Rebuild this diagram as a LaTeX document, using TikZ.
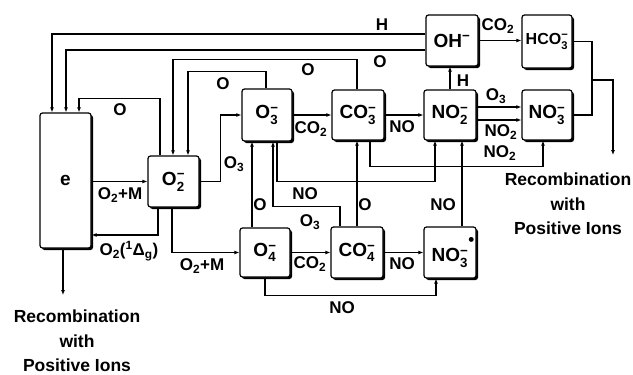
\documentclass[tikz,border=0pt]{standalone}
\usepackage{fontspec}
\usepackage{amsmath}
\setmainfont{Liberation Sans}
\usetikzlibrary{arrows.meta,shadows}
\newcommand\sbs[1]{\ensuremath{_{\text{#1}}}}
\newcommand\ionlab[3]{#1\ensuremath{^{\text{#3}}_{\text{#2}}}}
\begin{document}
\begin{tikzpicture}[x=1pt,y=-1pt,
  box/.style={draw, line width=1.2pt, fill=white, rounded corners=2.5pt, inner sep=0pt,
    font=\bfseries\fontsize{19}{22}\selectfont,
    drop shadow={shadow xshift=2pt, shadow yshift=-2pt, opacity=1, fill=black}},
  con/.style={line width=1.3pt},
  arr/.style={con, -{Latex[length=5pt,width=4pt]}},
  lab/.style={font=\bfseries\fontsize{17}{20}\selectfont, inner sep=0pt},
  rec/.style={align=center, inner sep=0pt, font=\bfseries\fontsize{17.5}{24.5}\selectfont}]
\useasboundingbox (0,0) rectangle (633,375);

% boxes
\node[box, minimum width=51pt, minimum height=135pt] (e) at (65.5,180.5) {e};
\node[box, minimum width=51pt, minimum height=51pt] (O2m) at (173.5,181.5) {\ionlab{O}{2}{−}};
\node[box, minimum width=50pt, minimum height=52pt] (O3m) at (267,115) {\ionlab{O}{3}{−}};
\node[box, minimum width=52pt, minimum height=50pt] (CO3m) at (358,115) {\ionlab{CO}{3}{−}};
\node[box, minimum width=52pt, minimum height=50pt] (NO2m) at (450,115) {\ionlab{NO}{2}{−}};
\node[box, minimum width=52pt, minimum height=51pt] (OHm) at (452,40.5) {OH\ensuremath{^{\text{−}}}};
\node[box, minimum width=50pt, minimum height=53pt, font=\bfseries\fontsize{16}{20}\selectfont] (HCO3m) at (547,41.5) {\ionlab{HCO}{3}{−}};
\node[box, minimum width=50pt, minimum height=50pt] (NO3m) at (547,115) {\ionlab{NO}{3}{−}};
\node[box, minimum width=50pt, minimum height=49pt] (O4m) at (265,252.5) {\ionlab{O}{4}{−}};
\node[box, minimum width=52pt, minimum height=51pt] (CO4m) at (357,252.5) {\ionlab{CO}{4}{−}};
\node[box, minimum width=52pt, minimum height=51pt] (NO3s) at (450,252.5) {\ionlab{NO}{3}{−}\rlap{\raisebox{1.6ex}{\fontsize{17}{17}\selectfont •}}};

% free ends
\coordinate (r1) at (63,295);
\coordinate (J) at (592,80);
\coordinate (r2) at (613,155);

% connectors
\draw[arr] ([yshift=6.5pt]OHm.west) -| ([xshift=-13.5pt]e.north);
\draw[arr] ([yshift=-9.5pt]OHm.west) -| ([xshift=0.5pt]e.north);
\draw[arr] ([xshift=-13.5pt]O2m.north) -- ++(0,-57) -| ([xshift=13.5pt]e.north);
\draw[arr] ([xshift=-1pt]O3m.north) -- ++(0,-17) -| ([xshift=14.5pt]O2m.north);
\draw[arr] ([xshift=-1pt]CO3m.north) -- ++(0,-30) -| ([xshift=-0.5pt]O2m.north);
\draw[arr] (e.east |- O2m.west) -- (O2m.west);
\draw[arr] ([xshift=-15.5pt]O2m.south) |- ([yshift=-54.5pt]e.east);
\draw[arr] ([xshift=-1.5pt]O2m.south) |- (O4m.west);
\draw[arr] (e.south -| r1) -- (r1);
\draw[arr] (O2m.east) -- ++(21,0) |- (O3m.west);
\draw[arr] (O3m.east) -- (CO3m.west);
\draw[arr] (CO3m.east) -- (NO2m.west);
\draw[arr] (NO2m.north) -- (NO2m.north |- OHm.south);
\draw[arr] (OHm.east) -- (OHm.east -| HCO3m.west);
\draw[arr] ([yshift=8pt]NO2m.east) -- ([yshift=8pt]NO3m.west);
\draw[arr] ([yshift=-5pt]NO2m.east) -- ([yshift=-5pt]NO3m.west);
\draw[arr] ([xshift=12pt]CO3m.south) -- ++(0,26) -| ([xshift=-4pt]NO3m.south);
\draw[con] (HCO3m.east) -| (J);
\draw[con] (NO3m.east) -| (J);
\draw[arr] (J) -| (r2);
\draw[arr] ([xshift=-13pt]O4m.north) -- ([xshift=-15pt]O3m.south);
\draw[arr] ([xshift=-17pt]CO4m.north) -- ++(0,-20) -| ([xshift=6pt]O3m.south);
\draw[arr] ([xshift=10pt]O3m.south) -- ++(0,40) -| ([xshift=-15pt]NO2m.south);
\draw[arr] (CO4m.north) -- (CO4m.north |- CO3m.south);
\draw[arr] ([xshift=12pt]NO3s.north) -- ([xshift=12pt]NO2m.south);
\draw[arr] (O4m.east) -- (CO4m.west);
\draw[arr] (CO4m.east) -- (NO3s.west);
\draw[arr] (O4m.south) -- ++(0,18) -| ([xshift=-14pt]NO3s.south);

% labels
\node[lab] (lH) at (382,25) {H};
\node[lab] (lO1) at (380,62) {O};
\node[lab] (lO2) at (120,110) {O};
\node[lab] (lO3) at (223,84) {O};
\node[lab] (lO4) at (308,70) {O};
\node[lab] (lO2M1) at (120,195) {O\sbs{2}+M};
\node[lab] (lDg) at (129,251) {O\sbs{2}(\ensuremath{^{\text{1}}}Δ\sbs{g})};
\node[lab] (lO2M2) at (202,266) {O\sbs{2}+M};
\node[lab] (lO3a) at (234,164) {O\sbs{3}};
\node[lab] (lCO2a) at (311,129) {CO\sbs{2}};
\node[lab] (lNOa) at (402,127) {NO};
\node[lab] (lH2) at (463,81) {H};
\node[lab] (lCO2b) at (498,26) {CO\sbs{2}};
\node[lab] (lO3b) at (496,96) {O\sbs{3}};
\node[lab] (lNO2a) at (501,132) {NO\sbs{2}};
\node[lab] (lNO2b) at (500,153) {NO\sbs{2}};
\node[lab] (lNOb) at (305,194) {NO};
\node[lab] (lO3c) at (310,222) {O\sbs{3}};
\node[lab] (lO5) at (260,205) {O};
\node[lab] (lO6) at (365,205) {O};
\node[lab] (lNOc) at (443,205) {NO};
\node[lab] (lCO2c) at (310,264) {CO\sbs{2}};
\node[lab] (lNOd) at (402,264) {NO};
\node[lab] (lNOe) at (342,308) {NO};
\node[rec] (rec1t) at (77,341) {Recombination\\with\\Positive Ions};
\node[rec] (rec2t) at (568,204) {Recombination\\with\\Positive Ions};
\end{tikzpicture}
\end{document}
